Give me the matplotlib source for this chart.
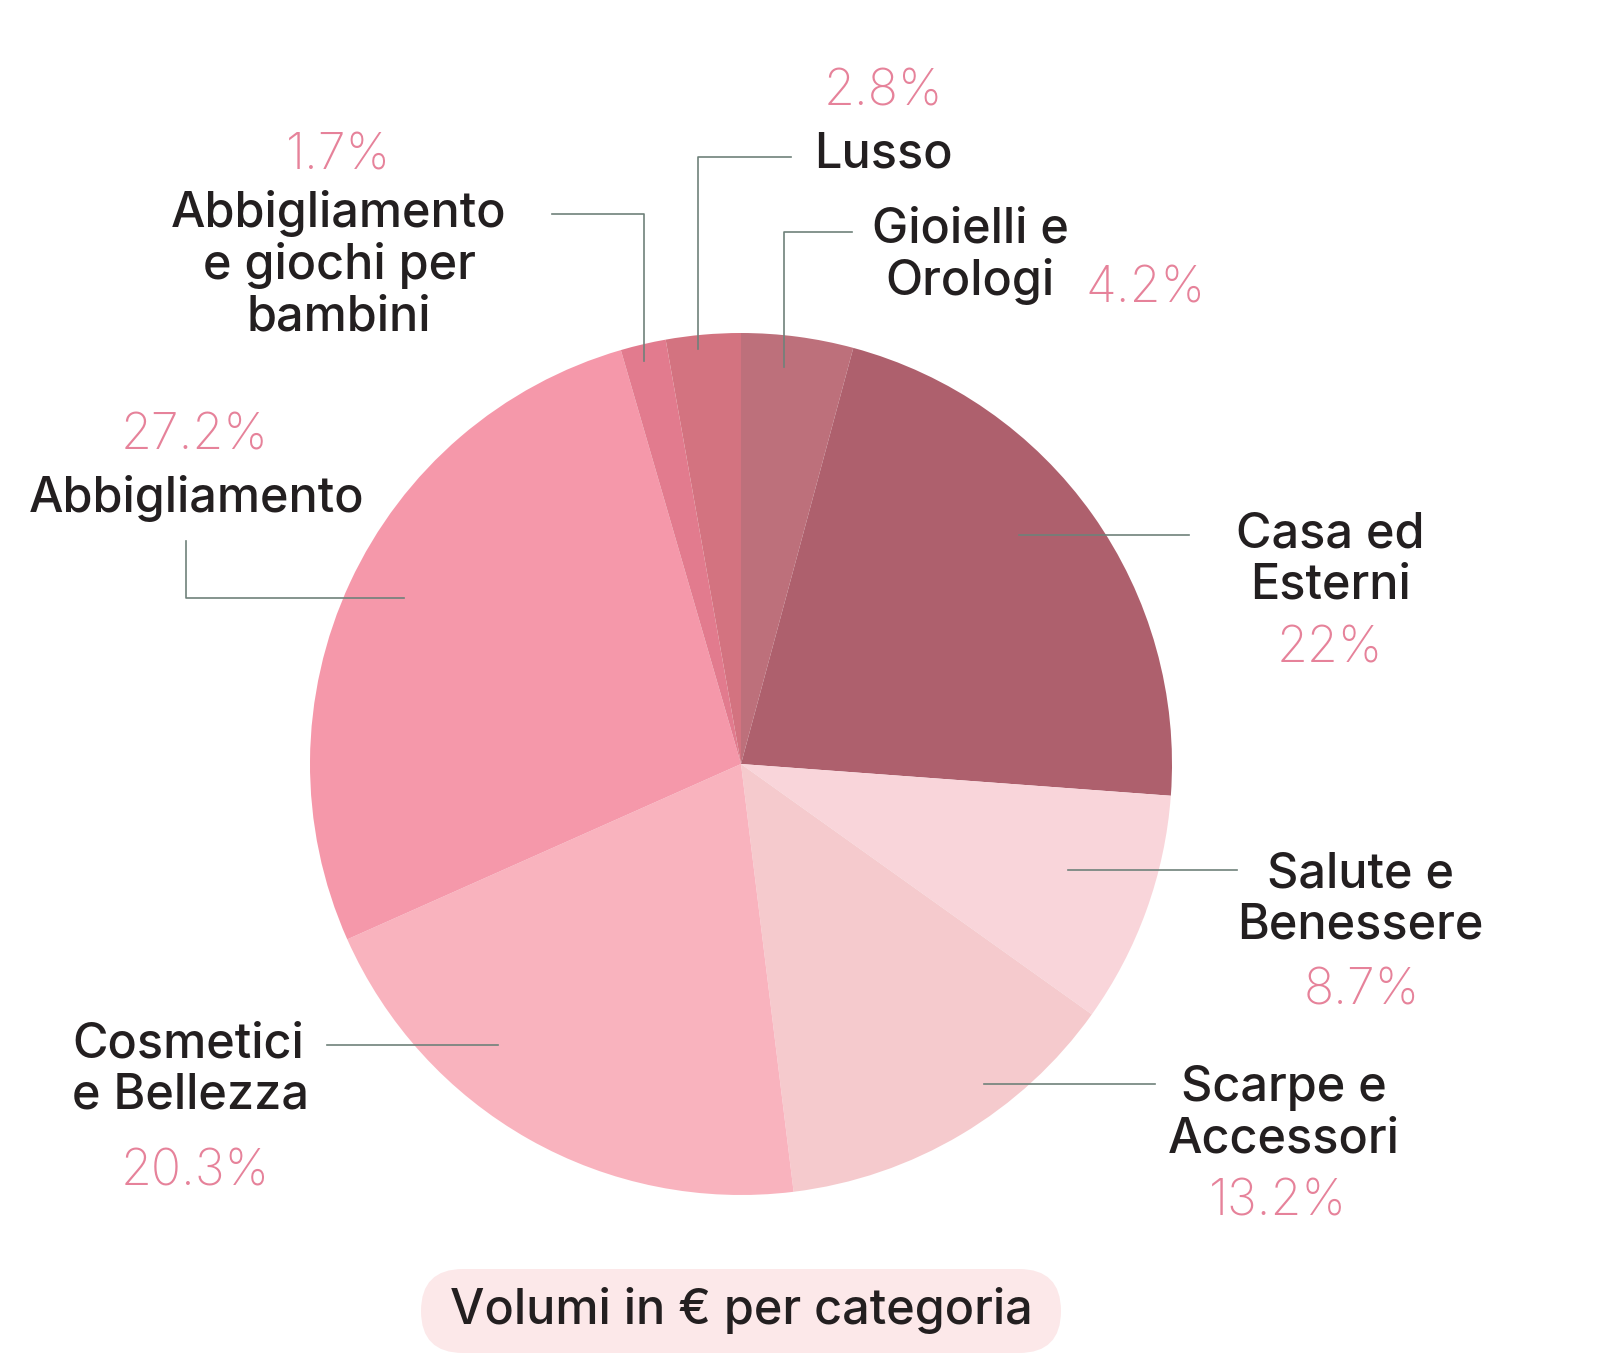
import matplotlib.pyplot as plt
from matplotlib.patches import FancyBboxPatch

# dati (percentuali in senso orario a partire dall'alto)
categorie = ["Gioielli e\nOrologi", "Casa ed\nEsterni", "Salute e\nBenessere",
             "Scarpe e\nAccessori", "Cosmetici\ne Bellezza", "Abbigliamento",
             "Abbigliamento\ne giochi per\nbambini", "Lusso"]
valori = [4.2, 22, 8.7, 13.2, 20.3, 27.2, 1.7, 2.8]
etichette_pct = ["4.2%", "22%", "8.7%", "13.2%", "20.3%", "27.2%", "1.7%", "2.8%"]
colori = ["#bd707b", "#ae606d", "#f9d5da", "#f5cacd", "#f9b3be", "#f598aa",
          "#e27b8e", "#d37380"]

W, H = 1610, 1354
TXT = "#231f20"
PCT = "#e6829a"
LINE = "#6f817a"
FONT = ["Inter", "DejaVu Sans"]

fig = plt.figure(figsize=(W / 100, H / 100), dpi=100)
ax = fig.add_axes([0, 0, 1, 1])


def Y(y):
    # coordinate immagine (dall'alto) -> coordinate assi
    return H - y


ax.pie(valori, colors=colori, startangle=90, counterclock=False,
       center=(741, Y(764)), radius=431, frame=True,
       wedgeprops=dict(linewidth=0))
ax.set_xlim(0, W)
ax.set_ylim(0, H)
ax.set_aspect("equal")
ax.axis("off")

# etichette: (x, y centro del blocco nome, allineamento, x pct, y pct)
pos = {
    "Gioielli e\nOrologi": (970, 256, "center", 1146, 289),
    "Casa ed\nEsterni": (1330, 560, "center", 1330, 649),
    "Salute e\nBenessere": (1360, 900, "center", 1362, 991),
    "Scarpe e\nAccessori": (1284, 1114, "center", 1278, 1202),
    "Cosmetici\ne Bellezza": (72, 1070, "left", 195, 1172),
    "Abbigliamento": (197, 498, "center", 195, 436),
    "Abbigliamento\ne giochi per\nbambini": (339, 265, "center", 338, 156),
    "Lusso": (883, 154, "center", 883, 92),
}

for cat, pct in zip(categorie, etichette_pct):
    x, y, ha, px, py = pos[cat]
    ax.text(x, Y(y), cat, ha=ha, va="center", fontsize=35, color=TXT,
            family=FONT, fontweight="medium", linespacing=1.15)
    ax.text(px, Y(py), pct, ha="center", va="center", fontsize=36, color=PCT,
            family=FONT, fontweight="light")

# linee guida
linee = [
    [(791, 157), (698, 157), (698, 349)],
    [(852, 232), (784, 232), (784, 367)],
    [(552, 214), (644, 214), (644, 361)],
    [(186, 541), (186, 598), (404, 598)],
    [(1019, 535), (1189, 535)],
    [(1068, 870), (1237, 870)],
    [(984, 1084), (1155, 1084)],
    [(327, 1045), (498, 1045)],
]
for pts in linee:
    xs = [p[0] for p in pts]
    ys = [Y(p[1]) for p in pts]
    ax.plot(xs, ys, color=LINE, linewidth=1.2)

# titolo in pillola
box = FancyBboxPatch((421, Y(1353)), 640, 84,
                     boxstyle="round,pad=0,rounding_size=42",
                     facecolor="#fce8e9", edgecolor="none")
ax.add_patch(box)
ax.text(741, Y(1310), "Volumi in € per categoria", ha="center", va="center",
        fontsize=35, color=TXT, family=FONT, fontweight="medium")

fig.savefig("out.png", dpi=100)
